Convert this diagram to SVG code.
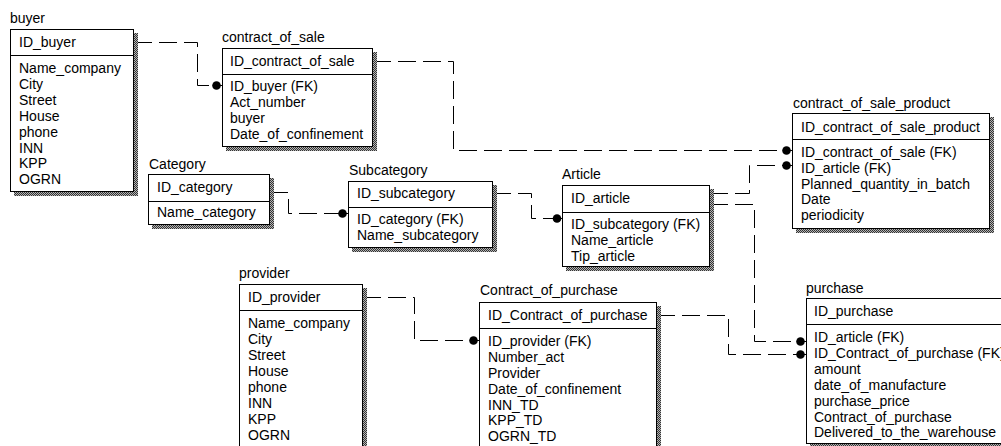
<svg xmlns="http://www.w3.org/2000/svg" width="1001" height="446" viewBox="0 0 1001 446">
<defs>
<pattern id="dither" width="2" height="2" patternUnits="userSpaceOnUse"><rect width="2" height="2" fill="#b4b4b4"/><rect width="1" height="1" fill="#333"/><rect x="1" y="1" width="1" height="1" fill="#333"/></pattern>
</defs>
<style>
.box{fill:#fff;stroke:#000;stroke-width:1}
.sh{fill:url(#dither)}
.div{stroke:#000;stroke-width:1}
text{font-family:"Liberation Sans",Arial,sans-serif;font-size:14px;fill:#000}
.c{fill:none;stroke:#000;stroke-width:1;stroke-dasharray:18 7}
.s{fill:none;stroke:#000;stroke-width:1}
.dot{fill:#000}
</style>
<rect width="1001" height="446" fill="#fff"/>
<g id="connectors">
<path class="c" d="M134 42.5H197.5V85.5H214"/><path class="s" d="M214 85.5H222"/><circle class="dot" cx="216.5" cy="85.5" r="4.3"/>
<path class="c" d="M373 61.5H453.5V150.5H784"/><path class="s" d="M784 150.5H792"/><circle class="dot" cx="786.5" cy="150.5" r="4.3"/>
<path class="c" d="M270 192.5H288.5V213.5H340"/><path class="s" d="M340 213.5H348"/><circle class="dot" cx="342.5" cy="213.5" r="4.3"/>
<path class="c" d="M493 193.5H531.5V218.5H555"/><path class="s" d="M555 218.5H562"/><circle class="dot" cx="557" cy="218.5" r="4.3"/>
<path class="c" d="M710 193.5H749.5V165.5H784"/><path class="s" d="M784 165.5H792"/><circle class="dot" cx="786.5" cy="165.5" r="4.3"/>
<path class="c" d="M710 204.5H754.5V341.5H798"/><path class="s" d="M798 341.5H806"/><circle class="dot" cx="800.5" cy="341.5" r="4.3"/>
<path class="c" d="M363 297.5H414.5V340.5H472"/><path class="s" d="M472 340.5H479"/><circle class="dot" cx="473.5" cy="340.5" r="4.3"/>
<path class="c" d="M657 315.5H728.5V354.5H798"/><path class="s" d="M798 354.5H806"/><circle class="dot" cx="800.5" cy="354.5" r="4.3"/>
</g>
<g id="buyer">
<text x="10" y="23">buyer</text>
<rect class="sh" x="14" y="33" width="124" height="163"/>
<rect class="box" x="10.5" y="29.5" width="123" height="162"/>
<line class="div" x1="10" y1="55.5" x2="134" y2="55.5"/>
<text x="19" y="47">ID_buyer</text>
<text x="19" y="73">Name_company</text>
<text x="19" y="89">City</text>
<text x="19" y="105">Street</text>
<text x="19" y="120.5">House</text>
<text x="19" y="136.5">phone</text>
<text x="19" y="152.5">INN</text>
<text x="19" y="168">KPP</text>
<text x="19" y="184">OGRN</text>
</g>
<g id="contract_of_sale">
<text x="222" y="42">contract_of_sale</text>
<rect class="sh" x="226" y="52" width="151" height="99"/>
<rect class="box" x="222.5" y="48.5" width="150" height="98"/>
<line class="div" x1="222" y1="74.5" x2="373" y2="74.5"/>
<text x="230" y="66">ID_contract_of_sale</text>
<text x="230" y="91">ID_buyer (FK)</text>
<text x="230" y="107">Act_number</text>
<text x="230" y="123">buyer</text>
<text x="230" y="139">Date_of_confinement</text>
</g>
<g id="category">
<text x="149" y="169">Category</text>
<rect class="sh" x="152" y="178" width="122" height="51"/>
<rect class="box" x="148.5" y="174.5" width="121" height="50"/>
<line class="div" x1="148" y1="201.5" x2="270" y2="201.5"/>
<text x="157" y="192">ID_category</text>
<text x="157" y="217">Name_category</text>
</g>
<g id="subcategory">
<text x="349" y="175">Subcategory</text>
<rect class="sh" x="352" y="185" width="145" height="67"/>
<rect class="box" x="348.5" y="181.5" width="144" height="66"/>
<line class="div" x1="348" y1="207.5" x2="493" y2="207.5"/>
<text x="357" y="198">ID_subcategory</text>
<text x="357" y="224">ID_category (FK)</text>
<text x="357" y="240">Name_subcategory</text>
</g>
<g id="article">
<text x="562" y="179">Article</text>
<rect class="sh" x="566" y="189" width="148" height="82"/>
<rect class="box" x="562.5" y="185.5" width="147" height="81"/>
<line class="div" x1="562" y1="212.5" x2="710" y2="212.5"/>
<text x="571" y="203">ID_article</text>
<text x="571" y="229">ID_subcategory (FK)</text>
<text x="571" y="245">Name_article</text>
<text x="571" y="261">Tip_article</text>
</g>
<g id="contract_of_sale_product">
<text x="793" y="108">contract_of_sale_product</text>
<rect class="sh" x="796" y="117" width="198" height="116"/>
<rect class="box" x="792.5" y="113.5" width="197" height="115"/>
<line class="div" x1="792" y1="139.5" x2="990" y2="139.5"/>
<text x="801" y="132">ID_contract_of_sale_product</text>
<text x="801" y="157">ID_contract_of_sale (FK)</text>
<text x="801" y="173">ID_article (FK)</text>
<text x="801" y="189">Planned_quantity_in_batch</text>
<text x="801" y="204">Date</text>
<text x="801" y="220">periodicity</text>
</g>
<g id="provider">
<text x="239" y="278">provider</text>
<rect class="sh" x="243" y="288" width="124" height="180"/>
<rect class="box" x="239.5" y="284.5" width="123" height="180"/>
<line class="div" x1="239" y1="310.5" x2="363" y2="310.5"/>
<text x="248" y="302">ID_provider</text>
<text x="248" y="328">Name_company</text>
<text x="248" y="344">City</text>
<text x="248" y="360">Street</text>
<text x="248" y="376">House</text>
<text x="248" y="392">phone</text>
<text x="248" y="408">INN</text>
<text x="248" y="424">KPP</text>
<text x="248" y="440">OGRN</text>
</g>
<g id="contract_of_purchase">
<text x="480" y="295">Contract_of_purchase</text>
<rect class="sh" x="483" y="306" width="178" height="160"/>
<rect class="box" x="479.5" y="302.5" width="177" height="160"/>
<line class="div" x1="479" y1="328.5" x2="657" y2="328.5"/>
<text x="488" y="320">ID_Contract_of_purchase</text>
<text x="488" y="346">ID_provider (FK)</text>
<text x="488" y="362">Number_act</text>
<text x="488" y="378">Provider</text>
<text x="488" y="393.5">Date_of_confinement</text>
<text x="488" y="409.5">INN_TD</text>
<text x="488" y="425">KPP_TD</text>
<text x="488" y="441">OGRN_TD</text>
</g>
<g id="purchase">
<text x="806" y="293">purchase</text>
<rect class="sh" x="810" y="302" width="210" height="146"/>
<rect class="box" x="806.5" y="298.5" width="209" height="145"/>
<line class="div" x1="806" y1="324.5" x2="1016" y2="324.5"/>
<text x="814" y="316">ID_purchase</text>
<text x="814" y="342">ID_article (FK)</text>
<text x="814" y="358">ID_Contract_of_purchase (FK)</text>
<text x="814" y="374">amount</text>
<text x="814" y="390">date_of_manufacture</text>
<text x="814" y="406">purchase_price</text>
<text x="814" y="422">Contract_of_purchase</text>
<text x="814" y="437">Delivered_to_the_warehouse</text>
</g>
</svg>
